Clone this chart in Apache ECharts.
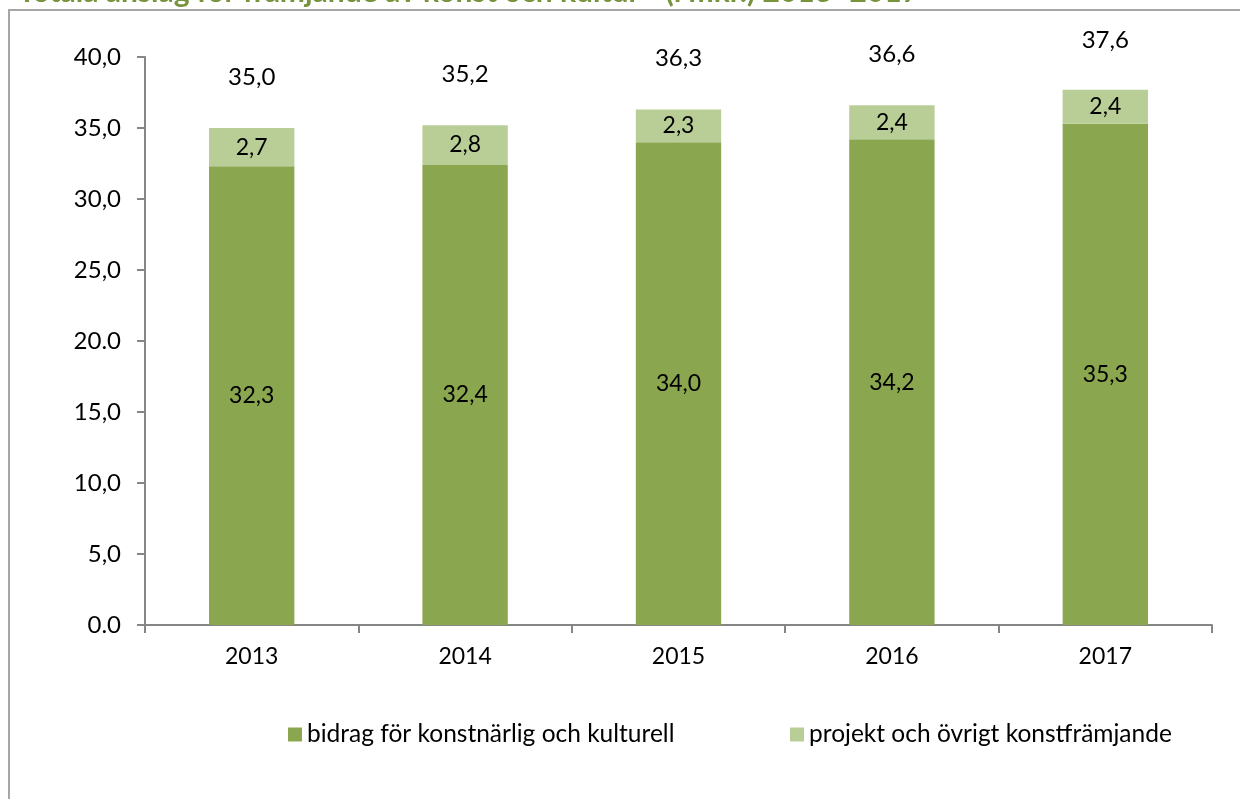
<!DOCTYPE html>
<html>
<head>
<meta charset="utf-8">
<script src="https://cdn.jsdelivr.net/npm/echarts@6/dist/echarts.min.js"></script>
<style>
  html, body { margin: 0; padding: 0; background: #fff; }
  #chart { width: 1240px; height: 799px; }
</style>
</head>
<body>
<div id="chart"></div>
<script>
  var years = ['2013', '2014', '2015', '2016', '2017'];
  var bidrag = [32.3, 32.4, 34.0, 34.2, 35.3];
  var projekt = [2.7, 2.8, 2.3, 2.4, 2.4];
  var totals = [35.0, 35.2, 36.3, 36.6, 37.6];
  var yTickLabels = ['0.0', '5,0', '10,0', '15,0', '20.0', '25,0', '30,0', '35,0', '40,0'];
  var seriesNames = ['bidrag för konstnärlig och kulturell', 'projekt och övrigt konstfrämjande'];
  var titleText = 'Totala anslag för främjande av konst och kultur - (i mkr.) 2013–2017';

  var font = 'Lato, "Open Sans", sans-serif';
  var comma = function (v) { return v.toFixed(1).replace('.', ','); };

  var chart = echarts.init(document.getElementById('chart'));
  var option = {
    animation: false,
    textStyle: { fontFamily: font },
    graphic: [
      {
        type: 'rect',
        shape: { x: 9, y: 10, width: 1400, height: 900 },
        style: { fill: 'none', stroke: '#a6a6a6', lineWidth: 2 }
      },
      {
        type: 'text',
        left: 18,
        top: -23,
        style: {
          text: titleText,
          fill: '#77933c',
          font: 'bold 30px ' + font
        }
      }
    ],
    grid: { left: 145, right: 28, top: 57, bottom: 174 },
    legend: [
      {
        data: [seriesNames[0]],
        left: 283, top: 717,
        icon: 'rect', itemWidth: 14, itemHeight: 14, itemGap: 8,
        textStyle: { fontSize: 24.5, color: '#000', fontFamily: font }
      },
      {
        data: [seriesNames[1]],
        left: 785, top: 717,
        icon: 'rect', itemWidth: 14, itemHeight: 14, itemGap: 8,
        textStyle: { fontSize: 24.5, color: '#000', fontFamily: font }
      }
    ],
    xAxis: {
      type: 'category',
      data: years,
      axisLine: { lineStyle: { color: '#868686', width: 2 } },
      axisTick: { show: true, length: 8, lineStyle: { color: '#868686', width: 2 } },
      axisLabel: { fontSize: 23, color: '#000', margin: 20 }
    },
    yAxis: {
      type: 'value',
      min: 0, max: 40, interval: 5,
      splitLine: { show: false },
      axisLine: { show: true, lineStyle: { color: '#868686', width: 2 } },
      axisTick: { show: true, length: 8, lineStyle: { color: '#868686', width: 2 } },
      axisLabel: {
        fontSize: 24, color: '#000', margin: 24,
        formatter: function (v) { return yTickLabels[Math.round(v / 5)]; }
      }
    },
    series: [
      {
        name: seriesNames[0],
        type: 'bar',
        stack: 'a',
        barWidth: '40%',
        data: bidrag,
        itemStyle: { color: '#8aa64f' },
        label: {
          show: true, position: 'inside', fontSize: 23, color: '#000',
          formatter: function (p) { return comma(p.value); }
        }
      },
      {
        name: seriesNames[1],
        type: 'bar',
        stack: 'a',
        data: projekt,
        itemStyle: { color: '#b9ce97' },
        label: {
          show: true, position: 'inside', fontSize: 23, color: '#000',
          formatter: function (p) { return comma(p.value); }
        }
      },
      {
        name: 'total',
        type: 'scatter',
        data: totals,
        symbolSize: 2,
        itemStyle: { color: '#000', opacity: 0 },
        silent: true,
        label: {
          show: true, position: 'top', distance: 38, fontSize: 24,
          color: '#000', opacity: 1, textBorderWidth: 0,
          formatter: function (p) { return comma(p.value); }
        }
      }
    ]
  };
  chart.setOption(option);
</script>
</body>
</html>
